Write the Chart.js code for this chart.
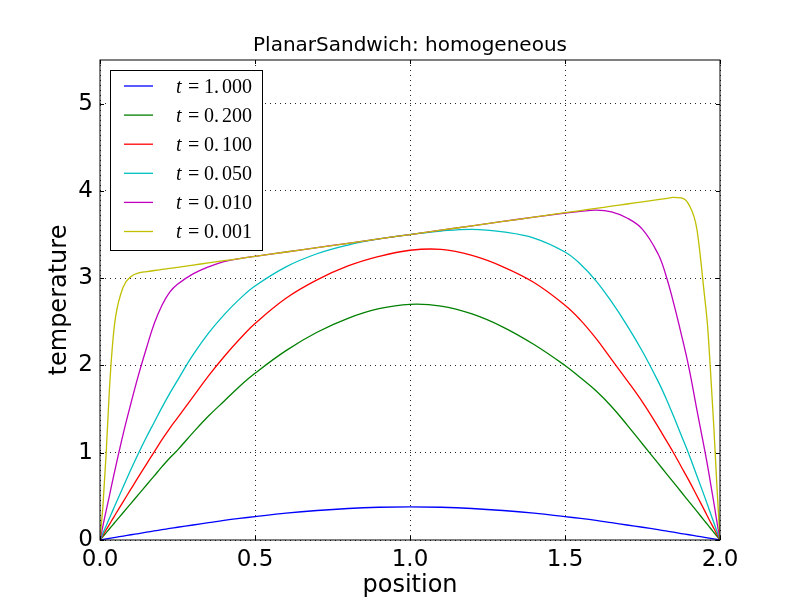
<!DOCTYPE html>
<html lang="en">
<head>
<meta charset="UTF-8">
<title>PlanarSandwich: homogeneous</title>
<script src="https://cdn.jsdelivr.net/npm/chart.js"></script>
<style>
    html, body { margin: 0; padding: 0; background: #fff; }
    #wrap { width: 800px; height: 600px; }
</style>
</head>
<body>
<div id="wrap"><canvas id="chart" width="800" height="600"></canvas></div>
<script>
// positions sampled along the slab (denser near the two faces)
const positions = [0, 0.005, 0.01, 0.02, 0.03, 0.04, 0.05, 0.075, 0.1, 0.125, 0.15, 0.175, 0.2, 0.225, 0.25, 0.3,
    0.35, 0.4, 0.45, 0.5, 0.6, 0.7, 0.8, 0.9, 1.0, 1.1, 1.2, 1.3, 1.4, 1.5, 1.55, 1.6, 1.65, 1.7, 1.75,
    1.8, 1.825, 1.85, 1.875, 1.9, 1.925, 1.95, 1.96, 1.97, 1.98, 1.99, 2.0];

// temperature, one array per time value
const tempT1000 = [0, 0.003, 0.006, 0.012, 0.018, 0.024, 0.03, 0.045, 0.06, 0.074, 0.089, 0.104, 0.118, 0.132, 0.146, 0.172,
    0.198, 0.224, 0.247, 0.268, 0.307, 0.338, 0.361, 0.375, 0.38, 0.375, 0.361, 0.338, 0.307, 0.268, 0.247, 0.224, 0.198, 0.172, 0.146,
    0.118, 0.104, 0.089, 0.074, 0.06, 0.045, 0.03, 0.024, 0.018, 0.012, 0.006, 0];
const tempT0200 = [0, 0.021, 0.042, 0.084, 0.126, 0.168, 0.21, 0.315, 0.42, 0.525, 0.63, 0.735, 0.84, 0.94, 1.03, 1.23,
    1.42, 1.59, 1.76, 1.91, 2.17, 2.38, 2.54, 2.65, 2.70, 2.68, 2.59, 2.44, 2.24, 2.0, 1.86, 1.71, 1.53, 1.32, 1.1,
    0.88, 0.77, 0.66, 0.55, 0.44, 0.33, 0.22, 0.176, 0.132, 0.088, 0.044, 0];
const tempT0100 = [0, 0.03, 0.059, 0.118, 0.177, 0.236, 0.295, 0.44, 0.585, 0.73, 0.87, 1.01, 1.15, 1.28, 1.40, 1.64,
    1.88, 2.1, 2.3, 2.48, 2.77, 2.98, 3.14, 3.25, 3.32, 3.33, 3.26, 3.13, 2.95, 2.69, 2.52, 2.31, 2.07, 1.83, 1.58,
    1.3, 1.15, 1.0, 0.84, 0.68, 0.51, 0.34, 0.27, 0.2, 0.135, 0.067, 0];
const tempT0050 = [0, 0.041, 0.082, 0.164, 0.246, 0.328, 0.41, 0.61, 0.81, 1.0, 1.18, 1.35, 1.52, 1.68, 1.83, 2.12,
    2.37, 2.58, 2.76, 2.91, 3.13, 3.28, 3.38, 3.45, 3.5, 3.54, 3.56, 3.53, 3.46, 3.30, 3.16, 2.97, 2.73, 2.46, 2.16,
    1.82, 1.63, 1.42, 1.2, 0.98, 0.74, 0.5, 0.4, 0.3, 0.2, 0.1, 0];
const tempT0010 = [0, 0.085, 0.17, 0.34, 0.5, 0.67, 0.83, 1.22, 1.57, 1.9, 2.2, 2.48, 2.69, 2.84, 2.93, 3.05,
    3.13, 3.19, 3.225, 3.25, 3.3, 3.35, 3.4, 3.45, 3.5, 3.55, 3.6, 3.65, 3.7, 3.745, 3.765, 3.78, 3.76, 3.69, 3.56,
    3.28, 3.04, 2.72, 2.36, 1.97, 1.5, 1.04, 0.85, 0.64, 0.43, 0.21, 0];
const tempT0001 = [0, 0.2, 0.42, 1.0, 1.7, 2.22, 2.55, 2.9, 3.02, 3.06, 3.075, 3.088, 3.1, 3.112, 3.125, 3.15,
    3.175, 3.2, 3.225, 3.25, 3.3, 3.35, 3.4, 3.45, 3.5, 3.55, 3.6, 3.65, 3.7, 3.75, 3.775, 3.8, 3.825, 3.85, 3.875,
    3.9, 3.912, 3.925, 3.92, 3.84, 3.57, 2.8, 2.45, 1.9, 1.3, 0.62, 0];

const timeLabels = ['1.000', '0.200', '0.100', '0.050', '0.010', '0.001'];
const lineColors = ['#0000ff', '#008000', '#ff0000', '#00bfbf', '#bf00bf', '#bfbf00'];
const xTicks = [0, 0.5, 1.0, 1.5, 2.0];
const yTicks = [0, 1, 2, 3, 4, 5];

const allSeries = [tempT1000, tempT0200, tempT0100, tempT0050, tempT0010, tempT0001];

const datasets = allSeries.map((temps, i) => ({
    label: 't = ' + timeLabels[i],
    data: positions.map((x, j) => ({ x: x, y: temps[j] })),
    borderColor: lineColors[i],
    borderWidth: 1.3,
    pointRadius: 0,
    fill: false,
    // the sharp-cornered t=0.001 curve keeps a monotone spline, the rest a plain bezier
    cubicInterpolationMode: i === 5 ? 'monotone' : 'default',
    tension: 0.4,
    order: allSeries.length - i   // later series drawn on top, like matplotlib
}));

// legend box inside the axes, top left corner
const insideLegend = {
    id: 'insideLegend',
    afterDatasetsDraw(chart) {
        const ctx = chart.ctx;
        const area = chart.chartArea;
        const bx = area.left + 10.5, by = area.top + 10.5;
        ctx.save();
        ctx.fillStyle = '#fff';
        ctx.fillRect(bx, by, 152, 180);
        ctx.strokeStyle = '#000';
        ctx.lineWidth = 1;
        ctx.strokeRect(bx, by, 152, 180);
        ctx.textBaseline = 'alphabetic';
        chart.data.datasets.forEach((ds, i) => {
            const rowY = area.top + 26 + i * 29.1;
            ctx.strokeStyle = ds.borderColor;
            ctx.lineWidth = 1.3;
            ctx.beginPath();
            ctx.moveTo(area.left + 24, rowY);
            ctx.lineTo(area.left + 53, rowY);
            ctx.stroke();
            ctx.fillStyle = '#000';
            const base = rowY + 6.5;
            ctx.font = 'italic 20px "Liberation Serif"';
            ctx.fillText('t', area.left + 76, base);
            ctx.font = '20px "Liberation Serif"';
            ctx.fillText('=', area.left + 88, base);
            const parts = timeLabels[i].split('.');
            ctx.fillText(parts[0] + '.', area.left + 104, base);
            ctx.fillText(parts[1], area.left + 122, base);
        });
        ctx.restore();
    }
};

// inward tick marks on all four sides plus the black frame
const frameTicks = {
    id: 'frameTicks',
    afterDraw(chart) {
        const ctx = chart.ctx;
        const a = chart.chartArea;
        const xs = chart.scales.x, ys = chart.scales.y;
        ctx.save();
        ctx.strokeStyle = '#000';
        ctx.lineWidth = 1;
        ctx.beginPath();
        xTicks.forEach(v => {
            const px = Math.round(xs.getPixelForValue(v)) + 0.5;
            ctx.moveTo(px, a.bottom); ctx.lineTo(px, a.bottom - 4);
            ctx.moveTo(px, a.top); ctx.lineTo(px, a.top + 4);
        });
        yTicks.forEach(v => {
            const py = Math.round(ys.getPixelForValue(v)) + 0.5;
            ctx.moveTo(a.left, py); ctx.lineTo(a.left + 4, py);
            ctx.moveTo(a.right, py); ctx.lineTo(a.right - 4, py);
        });
        ctx.stroke();
        ctx.strokeRect(a.left, a.top, a.right - a.left, a.bottom - a.top);
        ctx.restore();
    }
};

const gridStyle = {
    color: 'rgba(0,0,0,0.85)',
    lineWidth: 1,
    drawTicks: false
};

new Chart(document.getElementById('chart').getContext('2d'), {
    type: 'line',
    data: { datasets: datasets },
    options: {
        responsive: false,
        animation: false,
        devicePixelRatio: 1,
        layout: { padding: { left: 20, right: 0, top: 0, bottom: 0 } },
        plugins: {
            legend: { display: false },
            tooltip: { enabled: false },
            title: {
                display: true,
                text: 'PlanarSandwich: homogeneous',
                color: '#000',
                font: { family: 'DejaVu Sans', size: 20, weight: 'normal' },
                padding: { top: 33.5, bottom: 2.5 }
            }
        },
        scales: {
            x: {
                type: 'linear',
                min: 0,
                max: 2,
                afterBuildTicks: s => { s.ticks = xTicks.map(v => ({ value: v })); },
                afterFit: s => { s.height = 60; },
                grid: gridStyle,
                border: { display: false, dash: [1, 4] },
                ticks: {
                    color: '#000',
                    padding: 6,
                    font: { family: 'DejaVu Sans', size: 23 },
                    callback: v => v.toFixed(1)
                },
                title: {
                    display: true,
                    text: 'position',
                    color: '#000',
                    font: { family: 'DejaVu Sans', size: 24 },
                    padding: { top: 0, bottom: 0 }
                }
            },
            y: {
                type: 'linear',
                min: 0,
                max: 5.5,
                afterBuildTicks: s => { s.ticks = yTicks.map(v => ({ value: v })); },
                afterFit: s => { s.width = 80; },
                grid: gridStyle,
                border: { display: false, dash: [1, 4] },
                ticks: {
                    color: '#000',
                    padding: 7,
                    font: { family: 'DejaVu Sans', size: 23 },
                    callback: v => String(v)
                },
                title: {
                    display: true,
                    text: 'temperature',
                    color: '#000',
                    font: { family: 'DejaVu Sans', size: 24 },
                    padding: { top: 25, bottom: 0 }
                }
            },
            // empty right-hand axis that only reserves the margin
            yRight: {
                type: 'linear',
                position: 'right',
                min: 0,
                max: 5.5,
                afterFit: s => { s.width = 80; },
                grid: { display: false, drawTicks: false },
                border: { display: false },
                ticks: { display: false }
            }
        }
    },
    plugins: [insideLegend, frameTicks]
});
</script>
</body>
</html>
